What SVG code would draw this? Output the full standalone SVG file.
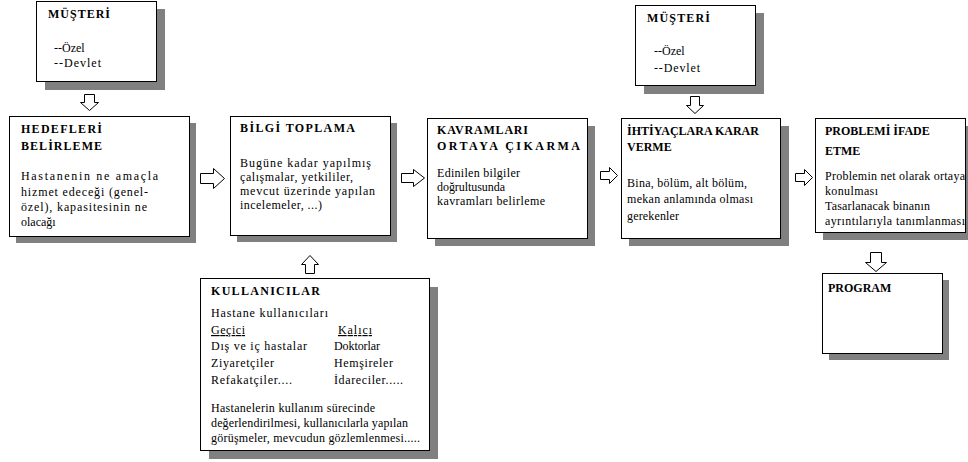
<svg xmlns="http://www.w3.org/2000/svg" width="968" height="462" viewBox="0 0 968 462" font-family="'Liberation Serif', 'DejaVu Serif', serif">
  <style>
    .shadow { fill: #808080; }
    .box { fill: #ffffff; stroke: #000000; stroke-width: 1; }
    .arrow { fill: #ffffff; stroke: #000000; stroke-width: 1; stroke-linejoin: miter; }
    text { font-family: 'Liberation Serif', 'DejaVu Serif', serif; fill: #000000; }
    .t { font-size: 12px; font-weight: bold; }
    .b { font-size: 12px; }
    .u { text-decoration: underline; }
  </style>
  <rect width="968" height="462" fill="#ffffff"/>

  <!-- customer (left) -->
  <g id="musteri-1">
    <rect class="shadow" x="45" y="9" width="120" height="81"/>
    <rect class="box" x="36.5" y="1.5" width="120" height="80"/>
    <text class="t" x="48" y="18" textLength="62" lengthAdjust="spacing">MÜŞTERİ</text>
    <text class="b" x="54" y="52">--Özel</text>
    <text class="b" x="54" y="67" textLength="47" lengthAdjust="spacing">--Devlet</text>
  </g>

  <!-- set goals -->
  <g id="hedefleri-belirleme">
    <rect class="shadow" x="16" y="123" width="180" height="120"/>
    <rect class="box" x="9.5" y="116.5" width="180" height="120"/>
    <text class="t" x="21" y="133" textLength="81" lengthAdjust="spacing">HEDEFLERİ</text>
    <text class="t" x="21" y="150" textLength="81" lengthAdjust="spacing">BELİRLEME</text>
    <text class="b" x="21" y="180" textLength="137" lengthAdjust="spacing">Hastanenin ne amaçla</text>
    <text class="b" x="21" y="196" textLength="127" lengthAdjust="spacing">hizmet edeceği (genel-</text>
    <text class="b" x="21" y="211" textLength="126" lengthAdjust="spacing">özel), kapasitesinin ne</text>
    <text class="b" x="21" y="226">olacağı</text>
  </g>

  <!-- gather information -->
  <g id="bilgi-toplama">
    <rect class="shadow" x="237" y="123" width="160" height="119"/>
    <rect class="box" x="230.5" y="116.5" width="160" height="119"/>
    <text class="t" x="240" y="132" textLength="115" lengthAdjust="spacing">BİLGİ TOPLAMA</text>
    <text class="b" x="240" y="167" textLength="131" lengthAdjust="spacing">Bugüne kadar yapılmış</text>
    <text class="b" x="240" y="181" textLength="113" lengthAdjust="spacing">çalışmalar,  yetkililer,</text>
    <text class="b" x="240" y="195" textLength="135" lengthAdjust="spacing">mevcut üzerinde yapılan</text>
    <text class="b" x="240" y="209" textLength="82" lengthAdjust="spacing">incelemeler, ...)</text>
  </g>

  <!-- derive concepts -->
  <g id="kavramlari-ortaya-cikarma">
    <rect class="shadow" x="435" y="126" width="160" height="120"/>
    <rect class="box" x="427.5" y="118.5" width="160" height="120"/>
    <text class="t" x="437" y="134" textLength="91" lengthAdjust="spacing">KAVRAMLARI</text>
    <text class="t" x="437" y="150" textLength="143" lengthAdjust="spacing">ORTAYA ÇIKARMA</text>
    <text class="b" x="437" y="177" textLength="83" lengthAdjust="spacing">Edinilen bilgiler</text>
    <text class="b" x="437" y="191" textLength="68" lengthAdjust="spacing">doğrultusunda</text>
    <text class="b" x="437" y="205" textLength="108" lengthAdjust="spacing">kavramları belirleme</text>
  </g>

  <!-- customer (right) -->
  <g id="musteri-2">
    <rect class="shadow" x="644" y="13" width="120" height="81"/>
    <rect class="box" x="635.5" y="5.5" width="120" height="80"/>
    <text class="t" x="647" y="22" textLength="63" lengthAdjust="spacing">MÜŞTERİ</text>
    <text class="b" x="654" y="55">--Özel</text>
    <text class="b" x="654" y="72" textLength="46" lengthAdjust="spacing">--Devlet</text>
  </g>

  <!-- decide requirements -->
  <g id="ihtiyaclara-karar-verme">
    <rect class="shadow" x="629" y="126" width="160" height="120"/>
    <rect class="box" x="621.5" y="118.5" width="159" height="120"/>
    <text class="t" x="627" y="135">İHTİYAÇLARA KARAR</text>
    <text class="t" x="627" y="151">VERME</text>
    <text class="b" x="627" y="187" textLength="120" lengthAdjust="spacing">Bina, bölüm, alt bölüm,</text>
    <text class="b" x="627" y="203" textLength="126" lengthAdjust="spacing">mekan  anlamında olması</text>
    <text class="b" x="627" y="220" textLength="52" lengthAdjust="spacing">gerekenler</text>
  </g>

  <!-- state the problem -->
  <g id="problemi-ifade-etme">
    <rect class="shadow" x="823" y="126" width="152" height="114"/>
    <rect class="box" x="815.5" y="118.5" width="150" height="114"/>
    <text class="t" x="825" y="135">PROBLEMİ İFADE</text>
    <text class="t" x="825" y="155">ETME</text>
    <text class="b" x="825" y="180" textLength="140" lengthAdjust="spacing">Problemin net olarak ortaya</text>
    <text class="b" x="825" y="195" textLength="53" lengthAdjust="spacing">konulması</text>
    <text class="b" x="825" y="210" textLength="105" lengthAdjust="spacing">Tasarlanacak binanın</text>
    <text class="b" x="825" y="225" textLength="140" lengthAdjust="spacing">ayrıntılarıyla tanımlanması</text>
  </g>

  <!-- programme -->
  <g id="program">
    <rect class="shadow" x="829" y="280" width="120" height="80"/>
    <rect class="box" x="822.5" y="273.5" width="120" height="80"/>
    <text class="t" x="828" y="292">PROGRAM</text>
  </g>

  <!-- users -->
  <g id="kullanicilar">
    <rect class="shadow" x="209" y="287" width="229" height="172"/>
    <rect class="box" x="200.5" y="278.5" width="229" height="172"/>
    <text class="t" x="211" y="295" textLength="109" lengthAdjust="spacing">KULLANICILAR</text>
    <text class="b" x="211" y="317" textLength="117" lengthAdjust="spacing">Hastane kullanıcıları</text>
    <text class="b u" x="211" y="334" textLength="34" lengthAdjust="spacing">Geçici</text>
    <text class="b u" x="338" y="334" textLength="34" lengthAdjust="spacing">Kalıcı</text>
    <text class="b" x="211" y="350" textLength="96" lengthAdjust="spacing">Dış ve iç hastalar</text>
    <text class="b" x="334" y="350" textLength="46" lengthAdjust="spacing">Doktorlar</text>
    <text class="b" x="211" y="367" textLength="63" lengthAdjust="spacing">Ziyaretçiler</text>
    <text class="b" x="334" y="367" textLength="59" lengthAdjust="spacing">Hemşireler</text>
    <text class="b" x="211" y="384" textLength="81" lengthAdjust="spacing">Refakatçiler....</text>
    <text class="b" x="334" y="384" textLength="69" lengthAdjust="spacing">İdareciler.....</text>
    <text class="b" x="211" y="412" textLength="164" lengthAdjust="spacing">Hastanelerin  kullanım sürecinde</text>
    <text class="b" x="211" y="427" textLength="197" lengthAdjust="spacing">değerlendirilmesi, kullanıcılarla yapılan</text>
    <text class="b" x="211" y="442" textLength="209" lengthAdjust="spacing">görüşmeler,  mevcudun gözlemlenmesi.....</text>
  </g>

  <!-- block arrows between the steps -->
  <g id="connectors">
    <path class="arrow" d="M84.5,94.5 H94.5 V102.5 H98.5 L89.5,110.5 L80.5,102.5 H84.5 Z"/>
    <path class="arrow" d="M690.5,96.5 H699.5 V105.5 H703.5 L695,113.5 L686.5,105.5 H690.5 Z"/>
    <path class="arrow" d="M200.5,173.5 H213.5 V168.5 L224.5,178.5 L213.5,188.5 V183.5 H200.5 Z"/>
    <path class="arrow" d="M401.5,173.5 H413.5 V169.5 L424.5,178 L413.5,186.5 V182.5 H401.5 Z"/>
    <path class="arrow" d="M600.5,171.5 H609.5 V167.5 L617.5,175.5 L609.5,183.5 V179.5 H600.5 Z"/>
    <path class="arrow" d="M795.5,173.5 H804.5 V169.5 L812.5,177.5 L804.5,185.5 V181.5 H795.5 Z"/>
    <path class="arrow" d="M310,255.5 L318.5,264.5 H314.5 V273.5 H305.5 V264.5 H301.5 Z"/>
    <path class="arrow" d="M870.5,252.5 H881.5 V262.5 H886.5 L876,271.5 L865.5,262.5 H870.5 Z"/>
  </g>
</svg>
